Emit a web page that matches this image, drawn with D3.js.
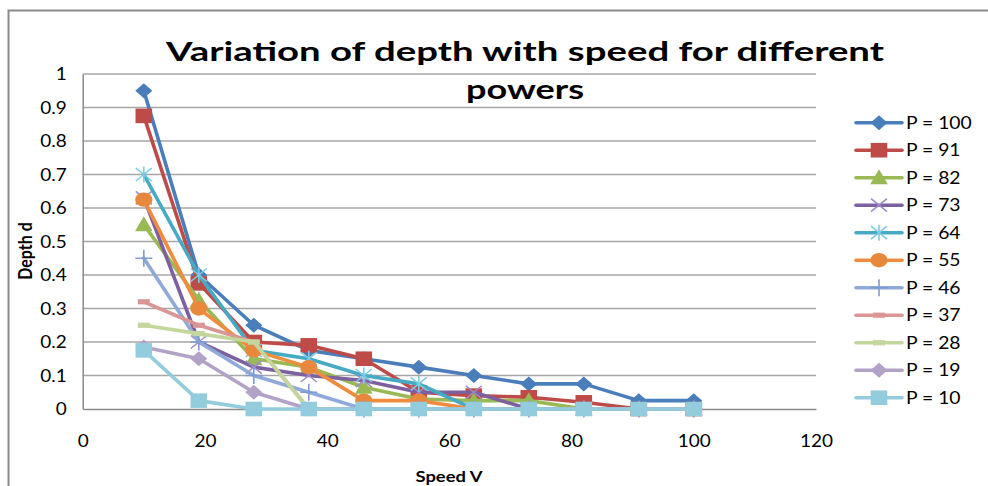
<!DOCTYPE html>
<html>
<head>
<meta charset="utf-8">
<script src="https://cdn.jsdelivr.net/npm/d3@7"></script>
<style>
  html, body { margin: 0; padding: 0; background: #ffffff; }
  svg { display: block; }
  text { font-family: Lato, "Liberation Sans", Arial, sans-serif; fill: #000; }
</style>
</head>
<body>
<svg id="chart" width="988" height="486"></svg>
<script>
// Speed values shared by every series (x axis)
const speeds = [10, 19, 28, 37, 46, 55, 64, 73, 82, 91, 100];

// Depth d for each laser power
const depthP100 = [0.95, 0.4, 0.25, 0.175, 0.15, 0.125, 0.1, 0.075, 0.075, 0.025, 0.025];
const depthP91  = [0.875, 0.375, 0.2, 0.19, 0.15, 0.05, 0.04, 0.035, 0.02, 0, 0];
const depthP82  = [0.55, 0.325, 0.15, 0.125, 0.065, 0.03, 0.025, 0.025, 0, 0, 0];
const depthP73  = [0.63, 0.2, 0.125, 0.1, 0.085, 0.05, 0.05, 0, 0, 0, 0];
const depthP64  = [0.7, 0.4, 0.175, 0.15, 0.1, 0.075, 0, 0, 0, 0, 0];
const depthP55  = [0.625, 0.3, 0.175, 0.125, 0.025, 0.025, 0, 0, 0, 0, 0];
const depthP46  = [0.45, 0.2, 0.1, 0.05, 0, 0, 0, 0, 0, 0, 0];
const depthP37  = [0.32, 0.25, 0.2, 0, 0, 0, 0, 0, 0, 0, 0];
const depthP28  = [0.25, 0.225, 0.2, 0, 0, 0, 0, 0, 0, 0, 0];
const depthP19  = [0.185, 0.15, 0.05, 0, 0, 0, 0, 0, 0, 0, 0];
const depthP10  = [0.175, 0.025, 0, 0, 0, 0, 0, 0, 0, 0, 0];

const seriesNames = ["P = 100", "P = 91", "P = 82", "P = 73", "P = 64", "P = 55",
                     "P = 46", "P = 37", "P = 28", "P = 19", "P = 10"];

// Axis ticks
const xTicks = [0, 20, 40, 60, 80, 100, 120];
const xTickLabels = ["0", "20", "40", "60", "80", "100", "120"];
const yTicks = [0, 0.1, 0.2, 0.3, 0.4, 0.5, 0.6, 0.7, 0.8, 0.9, 1];
const yTickLabels = ["0", "0.1", "0.2", "0.3", "0.4", "0.5", "0.6", "0.7", "0.8", "0.9", "1"];

// Styling per series: line colour, marker shape, marker colour
const lineColors = ["#4A7EBB", "#BE4B48", "#98B954", "#7D60A0", "#46AAC5", "#F08C3E",
                    "#8FAADA", "#D99694", "#C3D69B", "#B3A2C7", "#93CDDD"];
const markerShapes = ["diamond", "square", "triangle", "x", "star", "circle",
                      "plus", "dash", "dash", "diamond", "square"];
const markerColors = ["#4A7EBB", "#BE4B48", "#98B954", "#A08CC8", "#7CCCE2", "#E8883C",
                      "#7E9CD3", "#D99694", "#C3D69B", "#B3A2C7", "#93CDDD"];

const allDepths = [depthP100, depthP91, depthP82, depthP73, depthP64, depthP55,
                   depthP46, depthP37, depthP28, depthP19, depthP10];
const series = seriesNames.map((name, i) => ({
  name,
  color: lineColors[i],
  shape: markerShapes[i],
  mcolor: markerColors[i],
  points: speeds.map((v, j) => ({ v, d: allDepths[i][j] }))
}));

const svg = d3.select("#chart");
const TX = 1.15; // horizontal text stretch

const x = d3.scaleLinear().domain([0, 120]).range([82.7, 816]);
const y = d3.scaleLinear().domain([0, 1]).range([409, 74]);

// Outer chart frame
svg.append("path")
  .attr("d", "M8.5,490V10.5H992")
  .attr("fill", "none")
  .attr("stroke", "#8a8a8a")
  .attr("stroke-width", 2);

// Horizontal gridlines
svg.append("g")
  .selectAll("line")
  .data(yTicks.filter(t => t > 0))
  .join("line")
  .attr("x1", x(0)).attr("x2", x(120))
  .attr("y1", d => y(d)).attr("y2", d => y(d))
  .attr("stroke", "#a6a6a6")
  .attr("stroke-width", 1.4);

// Axes
const yAxis = svg.append("g")
  .attr("transform", `translate(${x(0)},0)`)
  .call(d3.axisLeft(y).tickValues(yTicks).tickFormat((d, i) => yTickLabels[i])
        .tickSize(0).tickPadding(0));
yAxis.select(".domain").attr("stroke", "#8c8c8c").attr("stroke-width", 1.5);
yAxis.selectAll("text")
  .attr("x", 0).attr("dy", "0.36em")
  .attr("transform", `translate(-16,0) scale(${TX},1)`)
  .style("font-size", "16.5px")
  .attr("text-anchor", "end");

const xAxis = svg.append("g")
  .attr("transform", `translate(0,${y(0)})`)
  .call(d3.axisBottom(x).tickValues(xTicks).tickFormat((d, i) => xTickLabels[i])
        .tickSize(0).tickPadding(0));
xAxis.select(".domain").attr("stroke", "#8c8c8c").attr("stroke-width", 1.5);
xAxis.selectAll("text")
  .attr("y", 0).attr("dy", 0)
  .attr("transform", `translate(0,38) scale(${TX},1)`)
  .style("font-size", "16.5px");

// Marker drawing
function drawMarker(g, shape, fill, cx, cy) {
  const m = g.append("g").attr("transform", `translate(${cx},${cy})`);
  switch (shape) {
    case "diamond":
      m.append("path").attr("d", "M0,-7.5L8.5,0L0,7.5L-8.5,0Z").attr("fill", fill);
      break;
    case "square":
      m.append("path").attr("d", "M-8.3,-7.3h16.6v14.6h-16.6Z").attr("fill", fill);
      break;
    case "triangle":
      m.append("path").attr("d", "M0,-8.5L8.8,6.5L-8.8,6.5Z").attr("fill", fill);
      break;
    case "circle":
      m.append("ellipse").attr("rx", 8.6).attr("ry", 7.2).attr("fill", fill);
      break;
    case "x":
      m.append("path").attr("d", "M-8,-6.5L8,6.5M-8,6.5L8,-6.5")
        .attr("stroke", fill).attr("stroke-width", 1.6).attr("fill", "none");
      break;
    case "star":
      m.append("path").attr("d", "M-8,-6.5L8,6.5M-8,6.5L8,-6.5M0,-8V8")
        .attr("stroke", fill).attr("stroke-width", 1.6).attr("fill", "none");
      break;
    case "plus":
      m.append("path").attr("d", "M-8.5,0H8.5M0,-8.5V8.5")
        .attr("stroke", fill).attr("stroke-width", 1.6).attr("fill", "none");
      break;
    case "dash":
      m.append("path").attr("d", "M-6,-2.6h12v5.2h-12Z").attr("fill", fill);
      break;
  }
}

const line = d3.line().x(p => x(p.v)).y(p => y(p.d));

// Series: each line drawn with its own markers, first series at the back
const plot = svg.append("g");
series.forEach(s => {
  const g = plot.append("g");
  g.append("path")
    .attr("d", line(s.points))
    .attr("fill", "none")
    .attr("stroke", s.color)
    .attr("stroke-width", 3.6)
    .attr("stroke-linejoin", "round")
    .attr("stroke-linecap", "round");
  s.points.forEach(p => drawMarker(g, s.shape, s.mcolor, x(p.v), y(p.d)));
});

// Legend
const legend = svg.append("g");
series.forEach((s, i) => {
  const ly = 122.7 + i * 27.5;
  const g = legend.append("g");
  g.append("line")
    .attr("x1", 856).attr("x2", 902).attr("y1", ly).attr("y2", ly)
    .attr("stroke", s.color).attr("stroke-width", 3.6).attr("stroke-linecap", "round");
  drawMarker(g, s.shape, s.mcolor, 879, ly);
  g.append("text")
    .attr("transform", `translate(906,${ly}) scale(${TX},1)`)
    .attr("dy", "0.36em")
    .style("font-size", "16.8px")
    .text(s.name);
});

// Title, two lines
const titleG = svg.append("g").style("font-weight", "bold");
titleG.append("text")
  .attr("x", 525).attr("y", 61)
  .attr("text-anchor", "middle")
  .attr("textLength", 718).attr("lengthAdjust", "spacingAndGlyphs")
  .style("font-size", "27px")
  .text("Variation of depth with speed for different");
titleG.append("text")
  .attr("x", 525).attr("y", 99)
  .attr("text-anchor", "middle")
  .attr("textLength", 118).attr("lengthAdjust", "spacingAndGlyphs")
  .style("font-size", "27px")
  .text("powers");

// Axis titles
svg.append("text")
  .attr("transform", `translate(449,482) scale(${TX},1)`)
  .attr("text-anchor", "middle")
  .style("font-size", "16px").style("font-weight", "bold")
  .text("Speed V");
svg.append("text")
  .attr("transform", `translate(32,251) rotate(-90) scale(1,${TX})`)
  .attr("text-anchor", "middle")
  .style("font-size", "16px").style("font-weight", "bold")
  .text("Depth d");
</script>
</body>
</html>
